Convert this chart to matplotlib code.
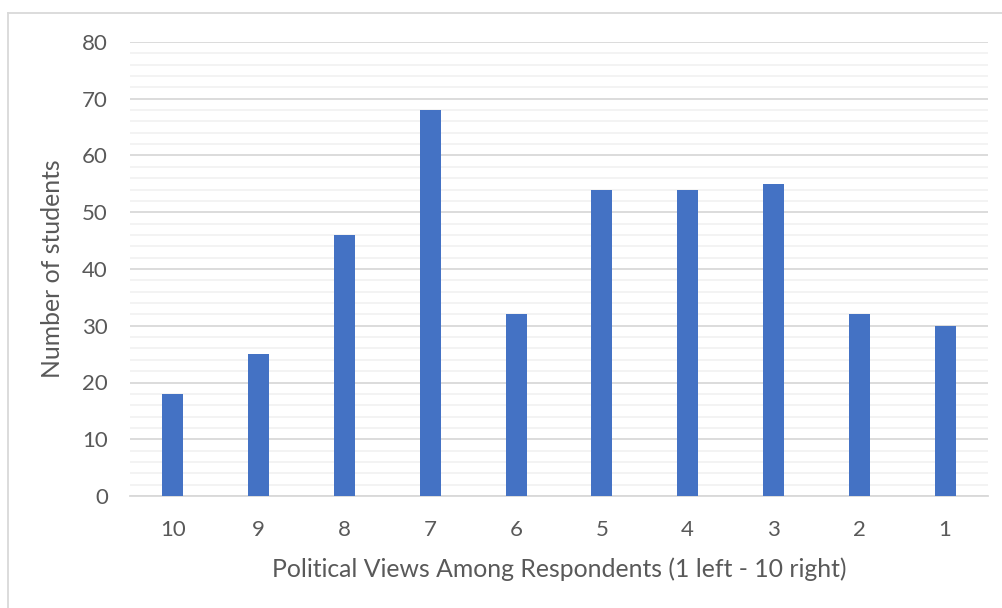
import matplotlib
matplotlib.use("Agg")
import matplotlib.pyplot as plt
from matplotlib.lines import Line2D
from matplotlib.ticker import MultipleLocator

# Survey responses: political self-placement (1 = left, 10 = right)
categories = ["10", "9", "8", "7", "6", "5", "4", "3", "2", "1"]
students = [18, 25, 46, 68, 32, 54, 54, 55, 32, 30]

BAR_COLOR = "#4472C4"
TEXT_COLOR = "#595959"
MAJOR_GRID = "#D9D9D9"
MINOR_GRID = "#F2F2F2"

plt.rcParams["font.family"] = ["Lato", "DejaVu Sans"]

fig = plt.figure(figsize=(10.03, 6.08), dpi=100)
ax = fig.add_axes([130 / 1003, 1 - 496 / 608, 858 / 1003, 454 / 608])

x = list(range(len(categories)))
ax.bar(x, students, width=0.245, color=BAR_COLOR, zorder=3)

ax.set_xlim(-0.5, len(categories) - 0.5)
ax.set_ylim(0, 80)
ax.set_xticks(x)
ax.set_xticklabels(categories)
ax.yaxis.set_major_locator(MultipleLocator(10))
ax.yaxis.set_minor_locator(MultipleLocator(2))

ax.grid(axis="y", which="major", color=MAJOR_GRID, linewidth=1.3, zorder=1)
ax.grid(axis="y", which="minor", color=MINOR_GRID, linewidth=1.3, zorder=0)
ax.set_axisbelow(True)

for side in ("top", "right", "left"):
    ax.spines[side].set_visible(False)
ax.spines["bottom"].set_color(MAJOR_GRID)
ax.spines["bottom"].set_linewidth(1.3)

ax.tick_params(axis="both", which="both", length=0, colors=TEXT_COLOR, labelsize=16)
ax.tick_params(axis="y", pad=16)
ax.tick_params(axis="x", pad=17)

ax.set_xlabel("Political Views Among Respondents (1 left - 10 right)",
              color=TEXT_COLOR, fontsize=17.8, labelpad=13)
ax.set_ylabel("Number of students", color=TEXT_COLOR, fontsize=17.8, labelpad=13)

# Chart-area border
border = "#D9D9D9"
fig.add_artist(Line2D([8.5 / 1003, 8.5 / 1003], [0, 1 - 12.5 / 608],
                      transform=fig.transFigure, color=border, linewidth=1.3))
fig.add_artist(Line2D([8.5 / 1003, 1], [1 - 12.5 / 608, 1 - 12.5 / 608],
                      transform=fig.transFigure, color=border, linewidth=1.3))

fig.savefig("out.png", dpi=100, facecolor="white")
